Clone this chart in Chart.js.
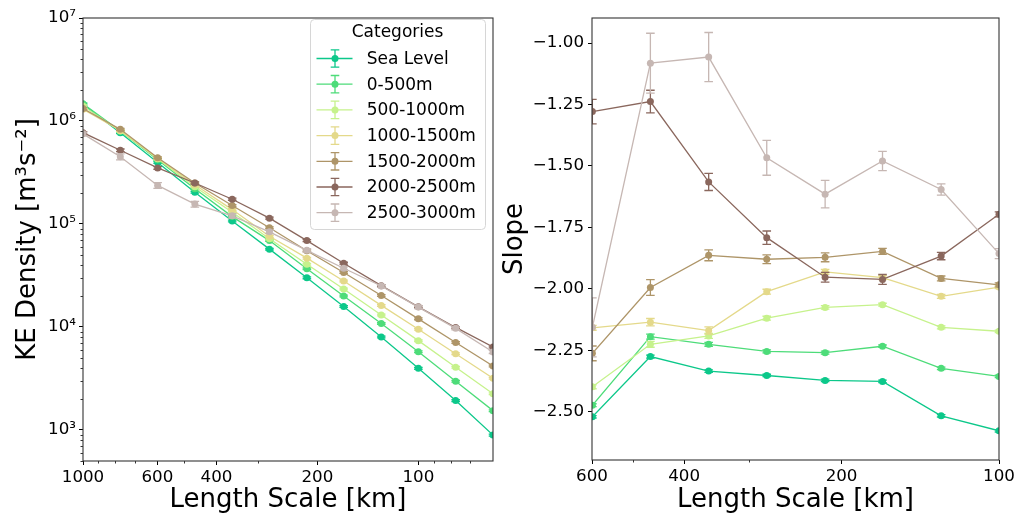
<!DOCTYPE html>
<html>
<head>
<meta charset="utf-8">
<script src="https://cdn.jsdelivr.net/npm/chart.js@4.4.0/dist/chart.umd.min.js"></script>
<style>
  body { margin: 0; background: #fff; }
  #wrap { position: relative; width: 1025px; height: 516px; }
  canvas { position: absolute; top: 0; }
</style>
</head>
<body>
<div id="wrap">
  <canvas id="ke" width="512" height="516" style="left:0"></canvas>
  <canvas id="slope" width="535" height="516" style="left:490px"></canvas>
</div>
<script>
var categories = ['Sea Level', '0-500m', '500-1000m', '1000-1500m', '1500-2000m', '2000-2500m', '2500-3000m'];
var seriesColours = ['#0cc88a', '#4ddc79', '#c6f28c', '#e4d98a', '#ae9568', '#8a675d', '#c6b7b3'];

// length scales in km
var keScales = [1000, 774, 599, 464, 359, 278, 215, 167, 129, 100, 77.4, 59.9];
var slopeScales = [599, 464, 359, 278, 215, 167, 129, 100];

// KE density spectra
var keSeaLevel = [1.45e6, 7.7e5, 3.95e5, 2.03e5, 1.07e5, 5.7e4, 3.0e4, 1.58e4, 8.0e3, 3.97e3, 1.93e3, 893];
var ke0to500 = [1.47e6, 8.0e5, 4.2e5, 2.2e5, 1.18e5, 6.9e4, 3.67e4, 2.0e4, 1.08e4, 5.76e3, 2.97e3, 1.54e3];
var ke500to1000 = [1.4e6, 8.0e5, 4.3e5, 2.3e5, 1.3e5, 7.2e4, 4.07e4, 2.34e4, 1.31e4, 7.37e3, 4.06e3, 2.25e3];
var ke1000to1500 = [1.3e6, 8.1e5, 4.35e5, 2.4e5, 1.38e5, 7.6e4, 4.66e4, 2.8e4, 1.62e4, 9.5e3, 5.5e3, 3.18e3];
var ke1500to2000 = [1.32e6, 8.3e5, 4.4e5, 2.5e5, 1.51e5, 9.2e4, 5.5e4, 3.38e4, 2.02e4, 1.2e4, 7.06e3, 4.19e3];
var ke2000to2500 = [7.7e5, 5.2e5, 3.5e5, 2.5e5, 1.74e5, 1.14e5, 6.9e4, 4.16e4, 2.52e4, 1.57e4, 9.9e3, 6.4e3];
var ke2500to3000 = [7.5e5, 4.5e5, 2.37e5, 1.56e5, 1.2e5, 8.4e4, 5.55e4, 3.72e4, 2.5e4, 1.56e4, 9.7e3, 5.73e3];

var keErrSeaLevel = [3e4, 1.5e4, 8e3, 4e3, 2e3, 1.1e3, 600, 300, 160, 80, 40, 20];
var keErr0to500 = [3e4, 1.6e4, 8e3, 4e3, 2.2e3, 1.3e3, 700, 400, 200, 110, 60, 30];
var keErr500to1000 = [3e4, 1.6e4, 8e3, 4.5e3, 2.5e3, 1.4e3, 800, 450, 250, 140, 80, 45];
var keErr1000to1500 = [3e4, 1.6e4, 9e3, 5e3, 2.8e3, 1.5e3, 900, 550, 320, 190, 110, 60];
var keErr1500to2000 = [3e4, 1.7e4, 9e3, 5e3, 3e3, 1.9e3, 1.1e3, 700, 400, 240, 140, 85];
var keErr2000to2500 = [2e4, 1.5e4, 1e4, 6e3, 4e3, 2.5e3, 1.5e3, 900, 500, 300, 200, 130];
var keErr2500to3000 = [3e4, 3e4, 1.5e4, 1e4, 6e3, 3e3, 2e3, 1.2e3, 800, 500, 300, 200];

// spectral slopes
var slopeSeaLevel = [-2.521, -2.276, -2.335, -2.353, -2.373, -2.377, -2.517, -2.578];
var slope0to500 = [-2.474, -2.195, -2.226, -2.255, -2.260, -2.234, -2.324, -2.357];
var slope500to1000 = [-2.399, -2.226, -2.192, -2.120, -2.076, -2.065, -2.157, -2.173];
var slope1000to1500 = [-2.159, -2.136, -2.170, -2.012, -1.931, -1.955, -2.031, -1.993];
var slope1500to2000 = [-2.263, -1.995, -1.864, -1.880, -1.872, -1.848, -1.958, -1.984];
var slope2000to2500 = [-1.279, -1.238, -1.565, -1.792, -1.953, -1.962, -1.867, -1.697];
var slope2500to3000 = [-2.157, -1.082, -1.057, -1.467, -1.615, -1.480, -1.596, -1.857];

var slopeErrSeaLevel = [0.005, 0.006, 0.005, 0.005, 0.005, 0.005, 0.005, 0.005];
var slopeErr0to500 = [0.006, 0.01, 0.008, 0.006, 0.006, 0.005, 0.005, 0.005];
var slopeErr500to1000 = [0.008, 0.012, 0.01, 0.008, 0.007, 0.006, 0.006, 0.005];
var slopeErr1000to1500 = [0.01, 0.015, 0.015, 0.01, 0.01, 0.008, 0.008, 0.006];
var slopeErr1500to2000 = [0.03, 0.032, 0.022, 0.018, 0.018, 0.012, 0.01, 0.008];
var slopeErr2000to2500 = [0.05, 0.046, 0.035, 0.027, 0.02, 0.02, 0.015, 0.01];
var slopeErr2500to3000 = [0.12, 0.122, 0.1, 0.071, 0.056, 0.039, 0.023, 0.02];

// axis ticks
var keXTicks = [1000, 600, 400, 200, 100];
var keXMinor = [900, 800, 700, 500, 300, 90, 80, 70];
var keYTicks = [1e3, 1e4, 1e5, 1e6, 1e7];
var keYTickLabels = ['10³', '10⁴', '10⁵', '10⁶', '10⁷'];
var slopeXTicks = [600, 400, 200, 100];
var slopeXMinor = [500, 300];
var slopeYTicks = [-2.5, -2.25, -2.0, -1.75, -1.5, -1.25, -1.0];

var keYMinor = [];
[100, 1000, 1e4, 1e5, 1e6].forEach(function (d) {
  for (var m = 2; m <= 9; m++) {
    if (d * m >= 500 && d * m < 1e7) keYMinor.push(d * m);
  }
});

var FONT = '"DejaVu Sans", sans-serif';
Chart.defaults.font.family = FONT;
Chart.defaults.color = '#000';

function buildDatasets(xs, series, errs) {
  return series.map(function (vals, i) {
    return {
      label: categories[i],
      data: vals.map(function (v, j) { return { x: xs[j], y: v }; }),
      errors: errs[i],
      showLine: true,
      borderColor: seriesColours[i],
      backgroundColor: seriesColours[i],
      borderWidth: 1.3,
      pointRadius: 3.5,
      pointBorderWidth: 0,
      order: series.length - i
    };
  });
}

// vertical error bars with caps, drawn under each series' markers
var errorBars = {
  id: 'errorBars',
  beforeDatasetDraw: function (chart, args) {
    var ds = chart.data.datasets[args.index];
    if (!ds.errors) return;
    var ys = chart.scales.y, ctx = chart.ctx, a = chart.chartArea;
    ctx.save();
    ctx.beginPath();
    ctx.rect(a.left, a.top, a.width, a.height);
    ctx.clip();
    ctx.strokeStyle = ds.borderColor;
    ctx.lineWidth = 1.3;
    args.meta.data.forEach(function (pt, i) {
      var v = ds.data[i].y, e = ds.errors[i];
      var y0 = ys.getPixelForValue(v - e), y1 = ys.getPixelForValue(v + e);
      ctx.beginPath();
      ctx.moveTo(pt.x, y0); ctx.lineTo(pt.x, y1);
      ctx.moveTo(pt.x - 4.3, y0); ctx.lineTo(pt.x + 4.3, y0);
      ctx.moveTo(pt.x - 4.3, y1); ctx.lineTo(pt.x + 4.3, y1);
      ctx.stroke();
    });
    ctx.restore();
  }
};

// frame around the plot area plus short minor tick marks
var frame = {
  id: 'frame',
  afterDraw: function (chart, args, opts) {
    var ctx = chart.ctx, a = chart.chartArea;
    ctx.save();
    ctx.strokeStyle = '#000';
    ctx.lineWidth = 0.8;
    ctx.beginPath();
    (opts.x || []).forEach(function (v) {
      var px = Math.round(chart.scales.x.getPixelForValue(v)) + 0.5;
      ctx.moveTo(px, a.bottom); ctx.lineTo(px, a.bottom + 2.5);
    });
    (opts.y || []).forEach(function (v) {
      var py = Math.round(chart.scales.y.getPixelForValue(v)) + 0.5;
      ctx.moveTo(a.left, py); ctx.lineTo(a.left - 2.5, py);
    });
    ctx.stroke();
    ctx.strokeStyle = '#333';
    ctx.lineWidth = 1.1;
    ctx.strokeRect(a.left, a.top, a.right - a.left, a.bottom - a.top);
    ctx.restore();
  }
};

// boxed legend in the upper right corner with errorbar handles
var categoryLegend = {
  id: 'categoryLegend',
  afterDraw: function (chart) {
    var ctx = chart.ctx, a = chart.chartArea;
    var w = 175, h = 210, right = a.right - 8, top = a.top + 1, left = right - w;
    ctx.save();
    ctx.beginPath();
    ctx.roundRect(left + 0.5, top + 0.5, w, h, 4);
    ctx.fillStyle = 'rgba(255,255,255,0.8)';
    ctx.fill();
    ctx.strokeStyle = '#d6d6d6';
    ctx.lineWidth = 1;
    ctx.stroke();
    ctx.font = '17px ' + FONT;
    ctx.fillStyle = '#000';
    ctx.textBaseline = 'middle';
    ctx.textAlign = 'center';
    ctx.fillText('Categories', left + w / 2, top + 14);
    ctx.textAlign = 'left';
    categories.forEach(function (name, i) {
      var y = top + 39.5 + i * 25.7, cx = left + 25;
      ctx.strokeStyle = seriesColours[i];
      ctx.lineWidth = 1.3;
      ctx.beginPath();
      ctx.moveTo(left + 6.5, y); ctx.lineTo(left + 42.5, y);
      ctx.moveTo(cx, y - 8.7); ctx.lineTo(cx, y + 8.7);
      ctx.moveTo(cx - 4.3, y - 8.7); ctx.lineTo(cx + 4.3, y - 8.7);
      ctx.moveTo(cx - 4.3, y + 8.7); ctx.lineTo(cx + 4.3, y + 8.7);
      ctx.stroke();
      ctx.fillStyle = seriesColours[i];
      ctx.beginPath();
      ctx.arc(cx, y, 3.5, 0, Math.PI * 2);
      ctx.fill();
      ctx.fillStyle = '#000';
      ctx.fillText(name, left + 56.7, y + 1);
    });
    ctx.restore();
  }
};

function tickFont() { return { size: 16.7, family: FONT }; }
function titleFont() { return { size: 26, family: FONT, lineHeight: 1.2 }; }
var tickGrid = { drawOnChartArea: false, drawTicks: true, tickLength: 4, tickColor: '#000', tickWidth: 1 };

new Chart(document.getElementById('ke').getContext('2d'), {
  type: 'scatter',
  data: {
    datasets: buildDatasets(keScales,
      [keSeaLevel, ke0to500, ke500to1000, ke1000to1500, ke1500to2000, ke2000to2500, ke2500to3000],
      [keErrSeaLevel, keErr0to500, keErr500to1000, keErr1000to1500, keErr1500to2000, keErr2000to2500, keErr2500to3000])
  },
  plugins: [errorBars, frame, categoryLegend],
  options: {
    responsive: false,
    devicePixelRatio: 1,
    animation: false,
    layout: { padding: { left: 0, top: 18, right: 19, bottom: 0 } },
    plugins: {
      legend: { display: false },
      tooltip: { enabled: false },
      frame: { x: keXMinor, y: keYMinor }
    },
    scales: {
      x: {
        type: 'logarithmic',
        reverse: true,
        min: 59.9,
        max: 1000,
        border: { display: false },
        grid: tickGrid,
        afterBuildTicks: function (s) { s.ticks = keXTicks.map(function (v) { return { value: v }; }); },
        afterFit: function (s) { s.height = 55; },
        ticks: {
          autoSkip: false, maxRotation: 0, padding: 3, font: tickFont(),
          callback: function (v) { return String(v); }
        },
        title: { display: true, text: 'Length Scale [km]', font: titleFont(), padding: { top: 0, bottom: 0 } }
      },
      y: {
        type: 'logarithmic',
        min: 500,
        max: 1e7,
        border: { display: false },
        grid: tickGrid,
        afterBuildTicks: function (s) { s.ticks = keYTicks.map(function (v) { return { value: v }; }); },
        afterFit: function (s) { s.width = 83; },
        ticks: {
          autoSkip: false, padding: 3, font: tickFont(),
          callback: function (v) { return keYTickLabels[keYTicks.indexOf(v)]; }
        },
        title: { display: true, text: 'KE Density [m³s⁻²]', font: titleFont(), padding: { top: 13, bottom: 0 } }
      }
    }
  }
});

new Chart(document.getElementById('slope').getContext('2d'), {
  type: 'scatter',
  data: {
    datasets: buildDatasets(slopeScales,
      [slopeSeaLevel, slope0to500, slope500to1000, slope1000to1500, slope1500to2000, slope2000to2500, slope2500to3000],
      [slopeErrSeaLevel, slopeErr0to500, slopeErr500to1000, slopeErr1000to1500, slopeErr1500to2000, slopeErr2000to2500, slopeErr2500to3000])
  },
  plugins: [errorBars, frame],
  options: {
    responsive: false,
    devicePixelRatio: 1,
    animation: false,
    layout: { padding: { left: 0, top: 18, right: 26, bottom: 0 } },
    plugins: {
      legend: { display: false },
      tooltip: { enabled: false },
      frame: { x: slopeXMinor, y: [] }
    },
    scales: {
      x: {
        type: 'logarithmic',
        reverse: true,
        min: 100,
        max: 600,
        border: { display: false },
        grid: tickGrid,
        afterBuildTicks: function (s) { s.ticks = slopeXTicks.map(function (v) { return { value: v }; }); },
        afterFit: function (s) { s.height = 56; },
        ticks: {
          autoSkip: false, maxRotation: 0, padding: 3, font: tickFont(),
          callback: function (v) { return String(v); }
        },
        title: { display: true, text: 'Length Scale [km]', font: titleFont(), padding: { top: 0, bottom: 0 } }
      },
      y: {
        min: -2.697,
        max: -0.898,
        border: { display: false },
        grid: tickGrid,
        afterBuildTicks: function (s) { s.ticks = slopeYTicks.map(function (v) { return { value: v }; }); },
        afterFit: function (s) { s.width = 102; },
        ticks: {
          autoSkip: false, padding: 4, font: tickFont(),
          callback: function (v) { return v.toFixed(2).replace('-', '\u2212'); }
        },
        title: { display: true, text: 'Slope', font: titleFont(), padding: { top: 10, bottom: 0 } }
      }
    }
  }
});
</script>
</body>
</html>
